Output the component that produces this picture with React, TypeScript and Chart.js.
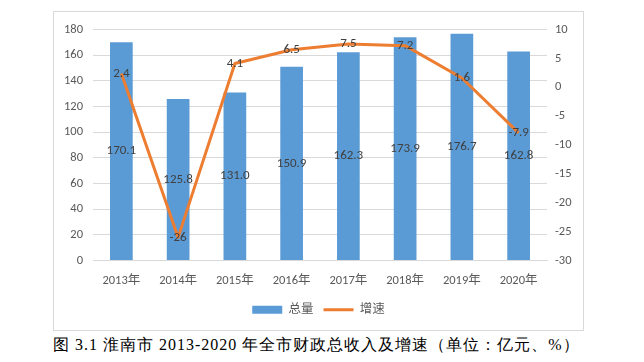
import React, { useEffect, useRef } from "react";
import { Chart, registerables } from "chart.js";

Chart.register(...registerables);

const categories = ["2013年", "2014年", "2015年", "2016年", "2017年", "2018年", "2019年", "2020年"];
const totalValues = [170.1, 125.8, 131.0, 150.9, 162.3, 173.9, 176.7, 162.8];
const growthValues = [2.4, -26, 4.1, 6.5, 7.5, 7.2, 1.6, -7.9];
const seriesNames = ["总量", "增速"];
const caption = "图 3.1 淮南市 2013-2020 年全市财政总收入及增速（单位：亿元、%）";

const BLUE = "#5B9BD5";
const ORANGE = "#ED7D31";
const TEXT = "#595959";
const LABEL = "#404040";
const GRID = "#D9D9D9";
const FONT = 'Calibri, "Noto Sans CJK SC", sans-serif';

const valueLabels = {
  id: "valueLabels",
  afterDatasetDraw(chart: any, args: any) {
    const i = args.index;
    const ds = chart.data.datasets[i];
    const meta = args.meta;
    const ctx = chart.ctx;
    ctx.save();
    ctx.font = `13px ${FONT}`;
    ctx.fillStyle = LABEL;
    ctx.textAlign = "center";
    ctx.textBaseline = "middle";
    meta.data.forEach((el: any, j: number) => {
      const v = ds.data[j];
      if (meta.type === "bar") {
        ctx.fillText(Number(v).toFixed(1), el.x, (el.y + el.base) / 2);
      } else {
        ctx.fillText(String(v), el.x, el.y);
      }
    });
    ctx.restore();
  },
};

export default function App() {
  const ref = useRef<HTMLCanvasElement | null>(null);

  useEffect(() => {
    if (!ref.current) return;
    const chart = new Chart(ref.current, {
      type: "bar",
      data: {
        labels: categories,
        datasets: [
          {
            type: "bar",
            label: seriesNames[0],
            data: totalValues,
            backgroundColor: BLUE,
            borderWidth: 0,
            barPercentage: 0.4,
            categoryPercentage: 1,
            yAxisID: "y",
            order: 2,
          },
          {
            type: "line",
            label: seriesNames[1],
            data: growthValues,
            borderColor: ORANGE,
            backgroundColor: ORANGE,
            borderWidth: 3,
            pointRadius: 0,
            tension: 0,
            borderJoinStyle: "round",
            yAxisID: "y1",
            order: 1,
          },
        ] as any,
      },
      options: {
        animation: false,
        responsive: false,
        maintainAspectRatio: false,
        layout: { padding: { top: 15, left: 0, right: 0, bottom: 4 } },
        plugins: {
          tooltip: { enabled: false },
          legend: {
            position: "bottom",
            labels: {
              color: TEXT,
              font: { family: FONT, size: 12.5 },
              usePointStyle: true,
              pointStyleWidth: 30,
              boxWidth: 30,
              boxHeight: 8,
              padding: 10,
              generateLabels: () => [
                { text: seriesNames[0], fillStyle: BLUE, strokeStyle: BLUE, lineWidth: 0, pointStyle: "rect", datasetIndex: 0, hidden: false, fontColor: TEXT },
                { text: seriesNames[1], fillStyle: ORANGE, strokeStyle: ORANGE, lineWidth: 3, pointStyle: "line", datasetIndex: 1, hidden: false, fontColor: TEXT },
              ] as any,
            },
          },
        },
        scales: {
          x: {
            grid: { display: false, drawTicks: false },
            border: { display: true, color: GRID },
            ticks: { color: TEXT, font: { family: FONT, size: 12.5 }, padding: 13, maxRotation: 0 },
            afterFit: (s: any) => { s.height = 33; },
          },
          y: {
            position: "left",
            min: 0,
            max: 180,
            grid: { color: GRID, drawTicks: false },
            border: { display: false },
            ticks: { stepSize: 20, color: TEXT, font: { family: FONT, size: 12.5 }, padding: 10 },
            afterFit: (s: any) => { s.width = 39; },
          },
          y1: {
            position: "right",
            min: -30,
            max: 10,
            grid: { display: false, drawTicks: false },
            border: { display: false },
            ticks: { stepSize: 5, color: TEXT, font: { family: FONT, size: 12.5 }, padding: 8 },
            afterFit: (s: any) => { s.width = 36; },
          },
        },
      } as any,
      plugins: [valueLabels],
    });
    return () => chart.destroy();
  }, []);

  return (
    <div style={{ position: "relative", width: 628, height: 346 }}>
      <div
        style={{
          position: "absolute",
          left: 45,
          top: 3,
          width: 531,
          height: 320,
          boxSizing: "border-box",
          border: `1px solid ${GRID}`,
          background: "#fff",
        }}
      >
        <canvas ref={ref} width={529} height={318} style={{ display: "block", width: 529, height: 318 }} />
      </div>
      <div
        style={{
          position: "absolute",
          left: 45,
          top: 327,
          fontFamily: '"Times New Roman", "Liberation Serif", serif',
          fontSize: 16,
          lineHeight: "20px",
          letterSpacing: "1px",
          whiteSpace: "nowrap",
          color: "#000",
        }}
      >
        {caption}
      </div>
    </div>
  );
}
